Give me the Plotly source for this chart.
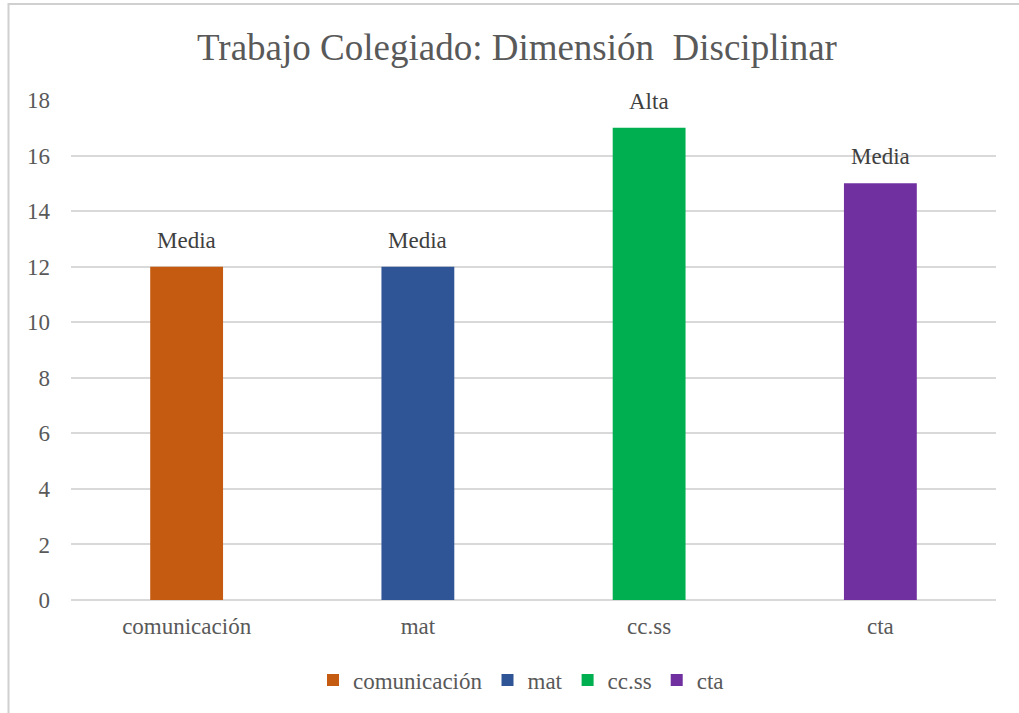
import plotly.graph_objects as go

categories = ["comunicación", "mat", "cc.ss", "cta"]
values = [12, 12, 17, 15]
labels = ["Media", "Media", "Alta", "Media"]
colors = ["#C55A11", "#2F5597", "#00B050", "#7030A0"]

FONT = "'Liberation Serif', 'Times New Roman', Times, serif"
TXT = "#595959"

fig = go.Figure()
for c, v, col in zip(categories, values, colors):
    fig.add_trace(go.Bar(x=[c], y=[v], name=c, marker_color=col, width=0.315,
                         marker_line_width=0, hoverinfo="skip"))

annotations = []
for c, v, lab in zip(categories, values, labels):
    annotations.append(dict(x=c, y=v, text=lab, showarrow=False, yanchor="bottom",
                            yshift=12, font=dict(family=FONT, size=23, color="#404040")))

W, H = 1019, 713
ml, mr, mt, mb = 71, 23, 100, 113
pw, ph = W - ml - mr, H - mt - mb

fig.update_layout(
    width=W, height=H,
    margin=dict(l=ml, r=mr, t=mt, b=mb),
    paper_bgcolor="white", plot_bgcolor="white",
    barmode="overlay",
    font=dict(family=FONT, size=23, color=TXT),
    title=dict(text="Trabajo Colegiado: Dimensión&nbsp; Disciplinar", x=517 / W, xref="container",
               xanchor="center", y=1 - 47 / H, yref="container", yanchor="middle",
               font=dict(family=FONT, size=37, color=TXT)),
    xaxis=dict(showgrid=False, showline=False, ticks="", ticklabelstandoff=10,
               tickfont=dict(family=FONT, size=23, color=TXT)),
    yaxis=dict(range=[0, 18], dtick=2, showgrid=True, gridcolor="#D9D9D9", gridwidth=1.5,
               zeroline=True, zerolinecolor="#D9D9D9", zerolinewidth=1.5, showline=False,
               ticks="", ticklabelstandoff=20, tickfont=dict(family=FONT, size=23, color=TXT)),
    legend=dict(orientation="h", x=521 / W, xref="container", xanchor="center",
                y=1 - 680 / H, yref="container", yanchor="middle",
                font=dict(family=FONT, size=23, color=TXT), itemsizing="constant",
                itemwidth=30, tracegroupgap=0),
    annotations=annotations,
    shapes=[dict(type="rect", xref="paper", yref="paper",
                 x0=(8.5 - ml) / pw, x1=(W + 20 - ml) / pw,
                 y0=-(H + 20 - mt - ph) / ph, y1=1 + (mt - 4) / ph,
                 line=dict(color="#D0D0D0", width=2), fillcolor="rgba(0,0,0,0)", layer="below")],
    showlegend=True,
)

fig.write_html("out.html", config={"displayModeBar": False},
               post_script="document.body.style.margin='0';")
